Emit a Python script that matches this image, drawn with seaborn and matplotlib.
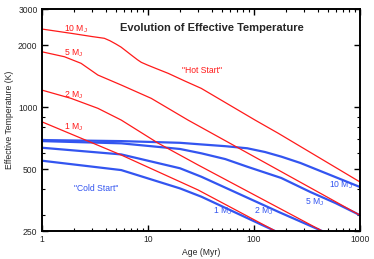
import numpy as np
import pandas as pd
import matplotlib
matplotlib.use("Agg")
import matplotlib.pyplot as plt
from matplotlib.ticker import FixedLocator, FixedFormatter, LogLocator, NullFormatter
import seaborn as sns

# "Hot start" tracks (red): age in Myr, Teff in K
hot_10_age = [1, 1.9, 3.0, 3.9, 4.4, 5.0, 5.6, 6.3, 7.0, 8.0, 8.7, 10, 12, 15.6, 22.4, 32, 103, 171, 1000]
hot_10_teff = [2406, 2292, 2210, 2168, 2110, 2035, 1965, 1875, 1797, 1705, 1656, 1605, 1545, 1464, 1343, 1237, 867, 747, 434]
hot_5_age = [1, 1.64, 2.35, 3.39, 5.63, 10.8, 24, 1000]
hot_5_teff = [1865, 1763, 1638, 1436, 1284, 1106, 867, 299]
hot_2_age = [1, 1.89, 3.39, 5.63, 12.5, 29.9, 443]
hot_2_teff = [1214, 1106, 989, 867, 670, 524, 250]
hot_1_age = [1, 5.63, 29.9, 160]
hot_1_teff = [851, 586, 396, 250]

# "Cold start" tracks (blue)
cold_10_age = [1, 5.58, 20.2, 32, 54, 87, 128, 183, 276, 530, 1000]
cold_10_teff = [693, 685, 672, 660, 647, 632, 606, 575, 536, 468, 410]
cold_5_age = [1, 5.63, 20.2, 32.2, 53.9, 87, 182, 343, 591, 1000]
cold_5_teff = [685, 668, 627, 597, 560, 514, 453, 387, 342, 299]
cold_2_age = [1, 5.63, 20.2, 32.2, 171, 442]
cold_2_teff = [636, 590, 505, 459, 310, 250]
cold_1_age = [1, 5.63, 20.2, 32.2, 159]
cold_1_teff = [550, 495, 403, 367, 250]

y_ticks = [250, 500, 1000, 2000, 3000]
x_ticks = [1, 10, 100, 1000]

RED = "#ff1a1a"
BLUE = "#3355f0"


def main():
    sns.set_style("ticks")
    plt.rcParams["font.family"] = ["Liberation Sans", "DejaVu Sans"]
    plt.rcParams["mathtext.fontset"] = "custom"
    plt.rcParams["mathtext.rm"] = "Liberation Sans"
    plt.rcParams["mathtext.it"] = "Liberation Sans"

    fig = plt.figure(figsize=(3.74, 2.59), dpi=100)
    ax = fig.add_axes([0.1115, 0.108, 0.8503, 0.856])

    tracks = [
        (cold_10_age, cold_10_teff, BLUE, 1.6),
        (cold_5_age, cold_5_teff, BLUE, 1.6),
        (cold_2_age, cold_2_teff, BLUE, 1.6),
        (cold_1_age, cold_1_teff, BLUE, 1.6),
        (hot_10_age, hot_10_teff, RED, 0.9),
        (hot_5_age, hot_5_teff, RED, 0.9),
        (hot_2_age, hot_2_teff, RED, 0.9),
        (hot_1_age, hot_1_teff, RED, 0.9),
    ]
    for age, teff, col, lw in tracks:
        df = pd.DataFrame({"age": age, "teff": teff})
        sns.lineplot(data=df, x="age", y="teff", color=col, lw=lw,
                     sort=False, estimator=None, ax=ax)

    ax.set_xscale("log")
    ax.set_yscale("log")
    ax.set_xlim(1, 1000)
    ax.set_ylim(250, 3000)

    ax.yaxis.set_major_locator(FixedLocator(y_ticks))
    ax.yaxis.set_major_formatter(FixedFormatter([str(t) for t in y_ticks]))
    ax.yaxis.set_minor_locator(LogLocator(base=10, subs=np.arange(2, 10)))
    ax.yaxis.set_minor_formatter(NullFormatter())
    ax.xaxis.set_major_locator(FixedLocator(x_ticks))
    ax.xaxis.set_major_formatter(FixedFormatter([str(t) for t in x_ticks]))
    ax.xaxis.set_minor_locator(LogLocator(base=10, subs=np.arange(2, 10)))
    ax.xaxis.set_minor_formatter(NullFormatter())

    ax.tick_params(which="both", direction="in", top=True, right=True,
                   labelsize=6.2, pad=3, color="black")
    ax.tick_params(which="major", length=4, width=1.0)
    ax.tick_params(which="minor", length=2, width=0.8)
    for sp in ax.spines.values():
        sp.set_linewidth(1.4)
        sp.set_color("black")

    ax.set_xlabel("Age (Myr)", fontsize=6.2, labelpad=3)
    ax.set_ylabel("Effective Temperature (K)", fontsize=6.2, labelpad=3)

    ax.text(0.536, 0.916, "Evolution of Effective Temperature", transform=ax.transAxes,
            ha="center", va="center", fontsize=8, fontweight="bold")

    lab = dict(fontsize=6.2, va="center", ha="left")
    ax.text(1.61, 2413, r"10 M$_\mathrm{J}$", color=RED, **lab)
    ax.text(1.61, 1832, r"5 M$_\mathrm{J}$", color=RED, **lab)
    ax.text(1.61, 1148, r"2 M$_\mathrm{J}$", color=RED, **lab)
    ax.text(1.64, 802, r"1 M$_\mathrm{J}$", color=RED, **lab)
    ax.text(32.3, 1510, '"Hot Start"', color=RED, fontsize=6.2, ha="center", va="center")

    ax.text(3.28, 402, '"Cold Start"', color=BLUE, fontsize=6.2, ha="center", va="center")
    ax.text(508, 416, r"10 M$_\mathrm{J}$", color=BLUE, **lab)
    ax.text(306, 346, r"5 M$_\mathrm{J}$", color=BLUE, **lab)
    ax.text(101, 313, r"2 M$_\mathrm{J}$", color=BLUE, **lab)
    ax.text(41.5, 313, r"1 M$_\mathrm{J}$", color=BLUE, **lab)

    fig.savefig("out.png", dpi=100)
    plt.close(fig)


if __name__ == "__main__":
    main()
